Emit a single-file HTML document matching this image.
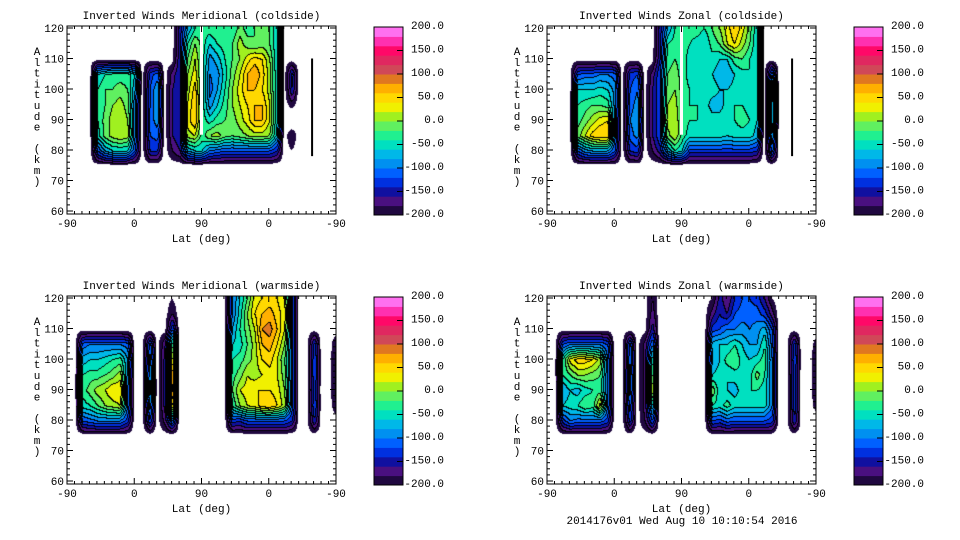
<!DOCTYPE html>
<html><head><meta charset="utf-8"><style>
html,body{margin:0;padding:0;background:#fff;}
#root{position:relative;width:960px;height:540px;overflow:hidden;background:#fff;font-family:"Liberation Mono",monospace;}
canvas{position:absolute;}
svg{position:absolute;left:0;top:0;}
</style></head><body>
<div id="root">
<svg id="svg" width="960" height="540"></svg>
</div>
<script>
const _ = null;
const altRows = [120,115,110,105,100,95,90,85,80];
const bandColors = ["#200840","#4a1080","#1010a0","#0030e0","#0060ff","#0090f0","#00b8e8","#00e0c0","#20f090","#60f060","#a0f020","#f0f000","#ffd800","#ffb000","#e07820","#d04858","#e02860","#ff0868","#ff30b0","#ff70f0"];
const cbTicks = [200,150,100,50,0,-50,-100,-150,-200];
const xTickLabels = ["-90","0","90","0","-90"];
const yTickLabels = [60,70,80,90,100,110,120];
const titles = ["Inverted Winds Meridional (coldside)","Inverted Winds Zonal (coldside)","Inverted Winds Meridional (warmside)","Inverted Winds Zonal (warmside)"];

const merCold = [
[_,_,_,_,_,_,_,_,_,_,_,_,_,_,_,-150,-80,-40,-30,-30,-20,-30,-40,-10,-30,-20,-10,-20,-60,_,_,_,_,_,_,_,_],
[_,_,_,_,_,_,_,_,_,_,_,_,_,_,_,-150,-40,0,-30,-60,-40,-30,-20,10,-10,-20,-10,-20,-60,_,_,_,_,_,_,_,_],
[_,_,_,_,_,_,_,_,_,_,_,_,_,_,_,-140,-20,20,-30,-90,-70,-40,-20,0,30,50,40,0,-60,_,_,_,_,_,_,_,_],
[_,_,_,_,-60,-40,-30,-30,-30,-60,_,-130,-110,_,-170,-140,0,30,-30,-100,-90,-50,-10,20,60,80,50,10,-60,_,-130,_,_,_,_,_,_],
[_,_,_,_,-40,-20,-20,-10,-20,-80,_,-120,-80,_,-160,-140,10,50,-30,-110,-80,-40,0,30,60,60,40,10,-60,_,-140,_,_,_,_,_,_],
[_,_,_,_,-40,-20,0,10,-10,-100,_,-120,-80,_,-160,-140,20,60,-30,-90,-60,-30,0,20,40,60,60,20,-60,_,-190,_,_,_,_,_,_],
[_,_,_,_,-40,-10,10,20,0,-100,_,-110,-90,_,-160,-140,30,60,-30,-50,-30,-20,-10,10,30,60,60,20,-60,_,-230,_,_,_,_,_,_],
[_,_,_,_,-50,-10,10,20,10,-100,_,-120,-110,_,-160,-140,10,20,-30,0,10,-10,-20,-10,0,10,10,0,-70,_,-180,_,_,_,_,_,_],
[_,_,_,_,-120,-80,-60,-60,-60,-120,_,-140,-140,_,-180,-160,-80,-60,-60,-100,-110,-120,-120,-120,-120,-120,-120,-120,-140,_,-200,_,_,_,_,_,_]
];
const zonCold = [
[_,_,_,_,_,_,_,_,_,_,_,_,_,_,_,-150,-80,-40,-30,-30,-30,-40,-20,0,30,60,30,-10,-60,_,_,_,_,_,_,_,_],
[_,_,_,_,_,_,_,_,_,_,_,_,_,_,_,-150,-40,-30,-30,-40,-50,-60,-30,-20,20,40,10,-20,-60,_,_,_,_,_,_,_,_],
[_,_,_,_,_,_,_,_,_,_,_,_,_,_,_,-140,-30,-20,-30,-50,-60,-50,-50,-60,-60,-30,-20,-40,-60,_,_,_,_,_,_,_,_],
[_,_,_,_,-120,-110,-110,-100,-100,-110,_,-130,-120,_,-170,-120,-20,-10,-30,-50,-60,-50,-60,-70,-80,-60,-50,-40,-60,_,-100,_,_,_,_,_,_],
[_,_,_,_,-60,-60,-60,-50,-60,-90,_,-120,-100,_,-160,-120,-10,0,-30,-40,-50,-40,-50,-60,-60,-50,-40,-50,-60,_,-40,_,_,_,_,_,_],
[_,_,_,_,-40,-30,-20,-20,-30,-90,_,-110,-90,_,-160,-120,0,10,-30,-40,-40,-50,-70,-70,-50,-40,-40,-50,-60,_,-60,_,_,_,_,_,_],
[_,_,_,_,-30,-10,10,30,40,-100,_,-100,-80,_,-160,-120,10,20,-30,-40,-40,-40,-50,-50,-40,-40,-30,-40,-60,_,-60,_,_,_,_,_,_],
[_,_,_,_,-10,20,50,60,60,-100,_,-110,-90,_,-160,-120,-10,20,-30,-50,-50,-50,-50,-50,-60,-50,-50,-50,-70,_,-80,_,_,_,_,_,_],
[_,_,_,_,-120,-90,-80,-80,-80,-120,_,-140,-130,_,-180,-150,-80,-40,-60,-130,-130,-130,-130,-130,-130,-130,-130,-130,-140,_,-110,_,_,_,_,_,_]
];
const merWarm = [
[_,_,_,_,_,_,_,_,_,_,_,_,_,_,-200,_,_,_,_,_,_,_,-100,-60,-20,30,40,50,40,20,-110,_,_,_,_,_,_],
[_,_,_,_,_,_,_,_,_,_,_,_,_,_,-180,_,_,_,_,_,_,_,-100,-50,0,40,60,70,50,30,-110,_,_,_,_,_,_],
[_,_,_,_,_,_,_,_,_,_,_,_,_,_,-120,_,_,_,_,_,_,_,-80,-40,-10,20,80,90,60,20,-110,_,_,_,_,_,_],
[_,_,-110,-100,-100,-100,-100,-100,-110,_,_,-110,_,-160,-20,_,_,_,_,_,_,_,-60,-50,-20,10,60,70,40,0,-110,_,_,-130,_,_,-180],
[_,_,-70,-60,-60,-50,-40,-30,-80,_,_,-90,_,-150,40,_,_,_,_,_,_,_,-40,-30,-10,10,40,50,20,-20,-110,_,_,-120,_,_,-170],
[_,_,-40,-30,-30,-20,-10,10,-90,_,_,-80,_,-150,90,_,_,_,_,_,_,_,-30,-10,20,10,20,30,20,-10,-110,_,_,-120,_,_,-170],
[_,_,-30,-10,10,20,40,40,-100,_,_,-70,_,-150,100,_,_,_,_,_,_,_,-20,20,30,40,40,40,30,0,-110,_,_,-130,_,_,-170],
[_,_,-50,-40,-20,0,10,20,-100,_,_,-90,_,-150,50,_,_,_,_,_,_,_,-40,0,20,30,50,60,40,10,-110,_,_,-120,_,_,-180],
[_,_,-120,-110,-100,-100,-100,-100,-130,_,_,-120,_,-170,-100,_,_,_,_,_,_,_,-130,-140,-120,-120,-120,-120,-120,-120,-140,_,_,-140,_,_,_]
];
const zonWarm = [
[_,_,_,_,_,_,_,_,_,_,_,_,_,_,-180,_,_,_,_,_,_,_,-200,-150,-180,-140,-120,-120,-130,-160,-200,_,_,_,_,_,_],
[_,_,_,_,_,_,_,_,_,_,_,_,_,_,-170,_,_,_,_,_,_,_,-170,-140,-160,-120,-110,-110,-110,-130,-170,_,_,_,_,_,_],
[_,_,_,_,_,_,_,_,_,_,_,_,_,_,-150,_,_,_,_,_,_,_,-130,-120,-100,-100,-90,-100,-90,-70,-120,_,_,_,_,_,_],
[_,_,-120,-100,-100,-100,-100,-100,-120,_,_,-110,_,-170,-100,_,_,_,_,_,_,_,-70,-60,-60,-40,-60,-80,-80,-40,-110,_,_,-130,_,_,-190],
[_,_,-40,30,50,50,40,10,-100,_,_,-100,_,-170,-40,_,_,_,_,_,_,_,-80,-60,-30,-20,-50,-60,-50,-30,-100,_,_,-120,_,_,-180],
[_,_,-40,-20,0,0,-10,-20,-100,_,_,-90,_,-170,-10,_,_,_,_,_,_,_,-60,-50,-60,-50,-40,-50,-10,-40,-100,_,_,-130,_,_,-180],
[_,_,-80,-60,-70,-50,-40,-30,-100,_,_,-90,_,-170,30,_,_,_,_,_,_,_,0,-60,-60,-70,-50,-40,-40,-50,-100,_,_,-130,_,_,-180],
[_,_,-60,-50,-40,-20,-30,30,-100,_,_,-110,_,-170,-60,_,_,_,_,_,_,_,-40,-50,-30,-50,-50,-50,-50,-50,-100,_,_,-130,_,_,-190],
[_,_,-130,-100,-110,-110,-110,-110,-130,_,_,-130,_,-180,-120,_,_,_,_,_,_,_,-120,-130,-110,-120,-120,-120,-120,-120,-130,_,_,-140,_,_,_]
];
const panelData = [merCold, zonCold, merWarm, zonWarm];
const panelOffsets = [[0,0],[480,0],[0,270],[480,270]];
const NULLV = -212;

const NS = "http://www.w3.org/2000/svg";
const svg = document.getElementById('svg');
const root = document.getElementById('root');
const X0 = 67, X1 = 336, Y0 = 26, Y1 = 214;
function xpx(p){ return X0 + p*(X1-X0)/360; }
function ypx(alt){ return 28 + (120-alt)*183/60; }
function mk(tag, attrs, parent){ const e=document.createElementNS(NS,tag); for(const k in attrs) e.setAttribute(k,attrs[k]); (parent||svg).appendChild(e); return e; }
function hexToRgb(h){ return [parseInt(h.substr(1,2),16),parseInt(h.substr(3,2),16),parseInt(h.substr(5,2),16)]; }
const rgbBands = bandColors.map(hexToRgb);

function gridVal(grid, ci, ri){
  if (ri >= grid.length || ri < 0) return NULLV;
  if (ci < 0 || ci > 36) return NULLV;
  const v = grid[ri][ci];
  return v === null ? NULLV : v;
}
function valueAt(grid, p, alt){
  if (alt < 75) return NULLV;
  if (alt > 120) alt = 120;
  const rf = (120-alt)/5;
  let cf = p/10; if (cf<0) cf=0; if (cf>36) cf=36;
  const r0=Math.floor(rf), c0=Math.floor(cf);
  const fr=rf-r0, fc=cf-c0;
  const c1=Math.min(c0+1,36);
  const v00=gridVal(grid,c0,r0), v01=gridVal(grid,c1,r0), v10=gridVal(grid,c0,r0+1), v11=gridVal(grid,c1,r0+1);
  return (v00*(1-fc)+v01*fc)*(1-fr) + (v10*(1-fc)+v11*fc)*fr;
}

panelData.forEach((grid, k) => {
  const [ox, oy] = panelOffsets[k];
  const W = X1-X0, H = Y1-Y0;
  const cv = document.createElement('canvas');
  cv.width = W; cv.height = H;
  cv.style.left = (X0+ox)+'px'; cv.style.top = (Y0+oy)+'px';
  
  
  root.insertBefore(cv, svg);
  const ctx = cv.getContext('2d');
  const img = ctx.createImageData(W, H);
  const bands = new Int16Array(W*H);
  for (let j=0;j<H;j++){
    const alt = 120 - (Y0+j-28)*60/183;
    for (let i=0;i<W;i++){
      const p = i*360/(X1-X0);
      const v = valueAt(grid, p, alt);
      let b = v < -200 ? -1 : Math.min(19, Math.floor((v+200)/20));
      bands[j*W+i] = b;
    }
  }
  for (let j=0;j<H;j++) for (let i=0;i<W;i++){
    const b = bands[j*W+i];
    const idx = (j*W+i)*4;
    let edge = false;
    if (i>0){ const n=bands[j*W+i-1]; if (n!==b && n>=0 && b>=0) edge = true; }
    if (j>0){ const n=bands[(j-1)*W+i]; if (n!==b && n>=0 && b>=0) edge = true; }
    let c;
    if (edge) c=[0,0,0]; else if (b<0) c=[255,255,255]; else c=rgbBands[b];
    img.data[idx]=c[0]; img.data[idx+1]=c[1]; img.data[idx+2]=c[2]; img.data[idx+3]=255;
  }
  ctx.putImageData(img,0,0);

  const g = mk('g', {transform:`translate(${ox},${oy})`});
  
  
  if (k < 2) {
    const wl = mk('line',{x1:xpx(180),x2:xpx(180),y1:Y0,y2:ypx(85),stroke:'#fff','stroke-width':3},g);
    
    
    const bl = mk('line',{x1:xpx(328),x2:xpx(328),y1:ypx(110),y2:ypx(78),stroke:'#000','stroke-width':2},g);
    
    
  }
  const box = mk('rect',{x:X0,y:Y0,width:X1-X0,height:Y1-Y0,fill:'none',stroke:'#000','stroke-width':1},g);
  
  
  for (let p=0;p<=360;p+=10){
    const major = p%90===0; const L = major?6:3; const x=xpx(p);
    mk('line',{x1:x,x2:x,y1:Y1,y2:Y1-L,stroke:'#000'},g);
    mk('line',{x1:x,x2:x,y1:Y0,y2:Y0+L,stroke:'#000'},g);
  }
  xTickLabels.forEach((t,i)=>{
    const tx = mk('text',{x:xpx(i*90),y:Y1+13,'font-size':11,'text-anchor':'middle',fill:'#000'},g);
    tx.textContent=t;
    
    
  });
  for (let a=60;a<=120;a+=2){
    const major = a%10===0; const L = major?6:3; const y=ypx(a);
    if (y<Y0||y>Y1) continue;
    mk('line',{x1:X0,x2:X0+L,y1:y,y2:y,stroke:'#000'},g);
    mk('line',{x1:X1,x2:X1-L,y1:y,y2:y,stroke:'#000'},g);
  }
  yTickLabels.forEach(a=>{
    const ty = mk('text',{x:X0-3,y:ypx(a)+4,'font-size':11,'text-anchor':'end',fill:'#000'},g);
    ty.textContent=String(a);
    
    
  });
  const title = mk('text',{x:(X0+X1)/2,y:19,'font-size':11,'text-anchor':'middle',fill:'#000'},g);
  title.textContent = titles[k];
  
  
  const xt = mk('text',{x:(X0+X1)/2,y:242,'font-size':11,'text-anchor':'middle',fill:'#000'},g);
  xt.textContent='Lat (deg)';
  
  
  const yt = mk('text',{'font-size':11,'text-anchor':'middle',fill:'#000'},g);
  
  
  const chars = 'Altitude (km)'.split('');
  chars.forEach((ch,i)=>{
    const ts = mk('tspan',{x:37,y:55+i*10.8},yt);
    ts.textContent = ch===' ' ? '\u00a0' : ch;
  });
  const cb = mk('g',{},g);
  
  
  const CX0=374, CX1=403, CY0=27, CY1=215, bh=(CY1-CY0)/20;
  bandColors.forEach((c,i)=>{
    const r = mk('rect',{x:CX0,y:CY1-(i+1)*bh,width:CX1-CX0,height:bh+0.5,fill:c},cb);
    
    
  });
  mk('rect',{x:CX0,y:CY0,width:CX1-CX0,height:CY1-CY0,fill:'none',stroke:'#000'},cb);
  cbTicks.forEach(v=>{
    const y = CY1 - (v+200)/400*(CY1-CY0);
    if (v>-200 && v<200) mk('line',{x1:CX1-6,x2:CX1,y1:y,y2:y,stroke:'#000'},cb);
    const ly = 25 + (200-v)/400*188;
    const t = mk('text',{x:444,y:ly+4,'font-size':11,'text-anchor':'end',fill:'#000'},cb);
    t.textContent = v.toFixed(1);
    
    
  });
});
const foot = mk('text',{x:682,y:524,'font-size':11,'text-anchor':'middle',fill:'#000'});
foot.textContent = '2014176v01 Wed Aug 10 10:10:54 2016';


</script>
</body></html>
